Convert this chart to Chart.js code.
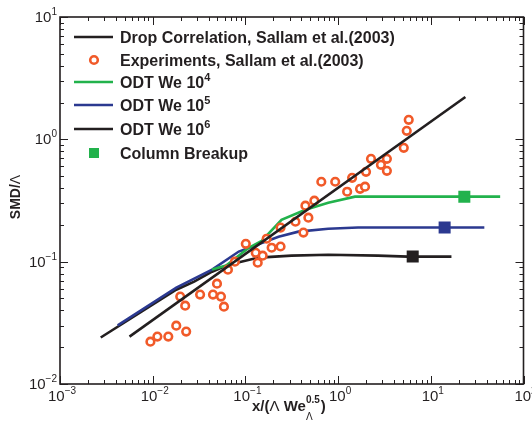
<!DOCTYPE html>
<html>
<head>
<meta charset="utf-8">
<script src="https://cdn.jsdelivr.net/npm/chart.js@4.4.0/dist/chart.umd.min.js"></script>
<style>
body{margin:0;background:#fff;}
canvas{display:block;}
</style>
</head>
<body>
<canvas id="myChart" width="532" height="428"></canvas>
<script>
// drop size correlation (straight line on log-log)
const corrX = [0.00562, 23.6];
const corrY = [0.0244, 2.22];

// experiments, Sallam et al. (2003)
const expX = [0.00945,0.01123,0.01473,0.01795,0.02297,0.01981,0.02241,0.03245,0.04472,0.04937,
  0.05449,0.05868,0.0648,0.0770,0.101,0.1293,0.1358,0.1536,0.1696,0.1919,
  0.2395,0.2395,0.3468,0.4225,0.444,0.478,0.5544,0.659,0.931,1.252,
  1.416,1.725,1.952,2.001,2.264,2.897,3.36,3.36,5.11,5.50,5.78];
const expY = [0.0222,0.0244,0.0244,0.0300,0.0268,0.0518,0.0437,0.0538,0.0538,0.0661,
  0.0518,0.0429,0.0860,0.100,0.140,0.118,0.098,0.112,0.154,0.130,
  0.133,0.190,0.212,0.173,0.287,0.229,0.315,0.450,0.450,0.373,
  0.485,0.394,0.410,0.543,0.693,0.619,0.693,0.553,0.852,1.173,1.443];

// ODT runs
const odt4X = [0.0437, 0.0620, 0.1087, 0.150, 0.245, 0.444, 0.783, 1.52, 56.0];
const odt4Y = [0.0861, 0.0930, 0.130, 0.148, 0.220, 0.266, 0.303, 0.340, 0.340];
const odt5X = [0.00419, 0.0180, 0.0437, 0.0849, 0.228, 0.373, 0.783, 1.64, 37.8];
const odt5Y = [0.0301, 0.0614, 0.0861, 0.121, 0.160, 0.176, 0.186, 0.190, 0.190];
const odt6X = [0.00275, 0.01795, 0.0280, 0.0437, 0.0664, 0.139, 0.314, 0.783, 2.69, 5.64, 16.7];
const odt6Y = [0.0240, 0.0590, 0.0687, 0.0828, 0.0946, 0.108, 0.112, 0.114, 0.112, 0.110, 0.110];

// column breakup points (We 1e4, 1e5, 1e6)
const breakX = [23.0, 14.1, 6.38];
const breakY = [0.340, 0.190, 0.110];

const xTickExps = [-3, -2, -1, 0, 1, 2];
const yTickExps = [-2, -1, 0, 1];

const legendNames = ["Drop Correlation, Sallam et al.(2003)", "Experiments, Sallam et al.(2003)",
  "ODT We 10", "ODT We 10", "ODT We 10", "Column Breakup"];
const legendSups = ["", "", "4", "5", "6", ""];

const BLACK = "#231f20", GREEN = "#22b24c", BLUE = "#2b3990", ORANGE = "#f15a29";

function pts(xs, ys){
  return xs.map((x, i) => ({x: x, y: ys[i]}));
}

const decor = {
  id: "decor",
  afterDraw(chart){
    const ctx = chart.ctx;
    const a = chart.chartArea;
    const xs = chart.scales.x, ys = chart.scales.y;
    ctx.save();
    ctx.strokeStyle = BLACK;
    ctx.fillStyle = BLACK;

    // frame
    ctx.lineWidth = 1.6;
    ctx.strokeRect(a.left, a.top, a.right - a.left, a.bottom - a.top);

    // inward ticks on all four sides
    ctx.lineWidth = 1;
    ctx.beginPath();
    for (let n = -3; n <= 2; n++){
      for (let k = 1; k <= 9; k++){
        const v = k * Math.pow(10, n);
        if (v > 100.0001) break;
        const p = Math.round(xs.getPixelForValue(v)) + 0.5;
        const len = k == 1 ? 8 : 4;
        ctx.moveTo(p, a.bottom); ctx.lineTo(p, a.bottom - len);
        ctx.moveTo(p, a.top); ctx.lineTo(p, a.top + len);
      }
    }
    for (let n = -2; n <= 1; n++){
      for (let k = 1; k <= 9; k++){
        const v = k * Math.pow(10, n);
        if (v > 10.0001) break;
        const p = Math.round(ys.getPixelForValue(v)) + 0.5;
        const len = k == 1 ? 8 : 4;
        ctx.moveTo(a.left, p); ctx.lineTo(a.left + len, p);
        ctx.moveTo(a.right, p); ctx.lineTo(a.right - len, p);
      }
    }
    ctx.stroke();

    // tick labels, 10 with superscript exponent
    const big = "15px 'Liberation Sans', Arial, sans-serif";
    const small = "10px 'Liberation Sans', Arial, sans-serif";
    ctx.textBaseline = "alphabetic";
    ctx.textAlign = "left";
    xTickExps.forEach(e => {
      const p = xs.getPixelForValue(Math.pow(10, e));
      ctx.font = big; const w1 = ctx.measureText("10").width;
      ctx.font = small; const w2 = ctx.measureText(String(e).replace("-", "\u2212")).width;
      const x0 = p + 2 - (w1 + w2) / 2;
      ctx.font = big; ctx.fillText("10", x0, 401);
      ctx.font = small; ctx.fillText(String(e).replace("-", "\u2212"), x0 + w1, 394);
    });
    yTickExps.forEach(e => {
      const p = ys.getPixelForValue(Math.pow(10, e));
      ctx.font = small; const s = String(e).replace("-", "\u2212"); const w2 = ctx.measureText(s).width;
      ctx.font = big; const w1 = ctx.measureText("10").width;
      const x0 = 57 - w1 - w2;
      ctx.fillText("10", x0, p + 5);
      ctx.font = small; ctx.fillText(s, x0 + w1, p - 2);
    });

    // axis titles
    const bold = "bold 15px 'Liberation Sans', Arial, sans-serif";
    const reg = "15px 'Liberation Sans', Arial, sans-serif";
    // x title: x/(Λ We_Λ^0.5)
    let cx = 252;
    ctx.font = bold; ctx.fillText("x/(", cx, 411); cx += ctx.measureText("x/(").width;
    ctx.font = reg; ctx.fillText("\u039b", cx, 411); cx += ctx.measureText("\u039b ").width;
    ctx.font = bold; ctx.fillText("We", cx, 411); cx += ctx.measureText("We").width;
    ctx.font = "bold 10px 'Liberation Sans', Arial, sans-serif";
    ctx.fillText("0.5", cx, 403); const ws = ctx.measureText("0.5").width;
    ctx.font = "10px 'Liberation Sans', Arial, sans-serif";
    ctx.fillText("\u039b", cx, 420);
    cx += ws + 1;
    ctx.font = bold; ctx.fillText(")", cx, 411);

    // y title: SMD/Λ rotated
    ctx.save();
    ctx.translate(20, 197);
    ctx.rotate(-Math.PI / 2);
    ctx.font = "bold 14px 'Liberation Sans', Arial, sans-serif";
    const t1 = "SMD/"; const wt1 = ctx.measureText(t1).width;
    ctx.font = "14px 'Liberation Sans', Arial, sans-serif";
    const wt2 = ctx.measureText("\u039b").width;
    const sx = -(wt1 + wt2) / 2;
    ctx.font = "bold 14px 'Liberation Sans', Arial, sans-serif";
    ctx.fillText(t1, sx, 0);
    ctx.font = "14px 'Liberation Sans', Arial, sans-serif";
    ctx.fillText("\u039b", sx + wt1, 0);
    ctx.restore();

    // legend
    const rows = [37, 60, 82, 105, 129, 153];
    const cols = [BLACK, ORANGE, GREEN, BLUE, BLACK, GREEN];
    ctx.font = "bold 16px 'Liberation Sans', Arial, sans-serif";
    legendNames.forEach((name, i) => {
      const yy = rows[i];
      if (i == 1){
        ctx.beginPath(); ctx.arc(94, yy, 3.8, 0, Math.PI * 2);
        ctx.fillStyle = "#fff"; ctx.fill();
        ctx.lineWidth = 2.6; ctx.strokeStyle = ORANGE; ctx.stroke();
      } else if (i == 5){
        ctx.fillStyle = GREEN; ctx.fillRect(89, yy - 5, 10, 10);
      } else {
        ctx.beginPath(); ctx.moveTo(74, yy); ctx.lineTo(113, yy);
        ctx.lineWidth = 2.5; ctx.strokeStyle = cols[i]; ctx.stroke();
      }
      ctx.fillStyle = BLACK;
      ctx.font = "bold 16px 'Liberation Sans', Arial, sans-serif";
      ctx.fillText(name, 120, yy + 6);
      if (legendSups[i]){
        const w = ctx.measureText(name).width;
        ctx.font = "bold 11px 'Liberation Sans', Arial, sans-serif";
        ctx.fillText(legendSups[i], 120 + w, yy - 1);
      }
    });
    ctx.restore();
  }
};

const data = {
  datasets: [
    {label: "Drop Correlation, Sallam et al.(2003)", data: pts(corrX, corrY), showLine: true,
      borderColor: BLACK, borderWidth: 2.6, pointRadius: 0},
    {label: "Experiments, Sallam et al.(2003)", data: pts(expX, expY), showLine: false,
      pointStyle: "circle", pointRadius: 3.8, pointBorderWidth: 2.6,
      pointBorderColor: ORANGE, pointBackgroundColor: "#fff"},
    {label: "Column Breakup", data: pts(breakX, breakY), showLine: false,
      pointStyle: "rect", pointRadius: 8.5, pointBorderWidth: 0,
      pointBackgroundColor: [GREEN, BLUE, BLACK], pointBorderColor: [GREEN, BLUE, BLACK]},
    {label: "ODT We 1e4", data: pts(odt4X, odt4Y), showLine: true, borderColor: GREEN,
      borderWidth: 2.6, pointRadius: 0, tension: 0},
    {label: "ODT We 1e5", data: pts(odt5X, odt5Y), showLine: true, borderColor: BLUE,
      borderWidth: 2.6, pointRadius: 0, tension: 0},
    {label: "ODT We 1e6", data: pts(odt6X, odt6Y), showLine: true, borderColor: BLACK,
      borderWidth: 2.6, pointRadius: 0, tension: 0}
  ]
};

const config = {
  type: "scatter",
  data: data,
  options: {
    responsive: false,
    animation: false,
    layout: {padding: {left: 60, top: 17, right: 6, bottom: 44}},
    plugins: {legend: {display: false}, tooltip: {enabled: false}},
    scales: {
      x: {type: "logarithmic", min: 0.001, max: 100, display: false},
      y: {type: "logarithmic", min: 0.01, max: 10, display: false}
    }
  },
  plugins: [decor]
};

const myChart = new Chart(document.getElementById("myChart").getContext("2d"), config);
</script>
</body>
</html>
